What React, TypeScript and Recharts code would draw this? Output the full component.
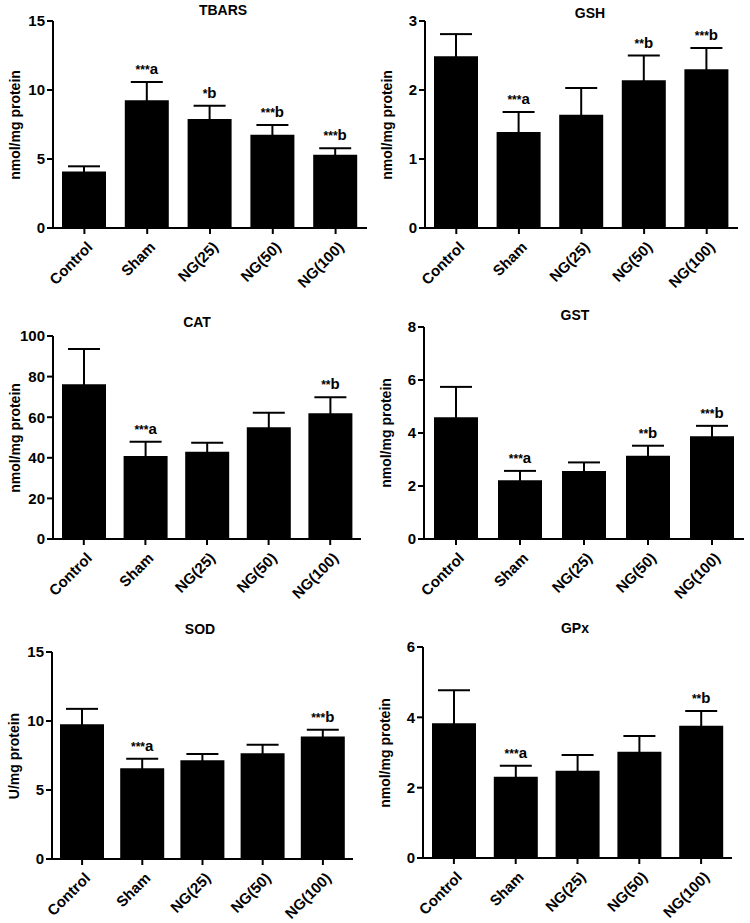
import { BarChart, Bar, XAxis, YAxis, ErrorBar } from 'recharts';

const categories = ['Control', 'Sham', 'NG(25)', 'NG(50)', 'NG(100)'];

const tbarsMean = [4.1, 9.25, 7.9, 6.75, 5.3];
const tbarsSem = [0.37, 1.33, 0.95, 0.72, 0.48];
const tbarsMarks = ['', '***a', '*b', '***b', '***b'];

const gshMean = [2.49, 1.39, 1.64, 2.14, 2.3];
const gshSem = [0.32, 0.29, 0.39, 0.36, 0.31];
const gshMarks = ['', '***a', '', '**b', '***b'];

const catMean = [76.2, 40.9, 43.0, 55.0, 61.9];
const catSem = [17.4, 7.0, 4.4, 7.2, 7.9];
const catMarks = ['', '***a', '', '', '**b'];

const gstMean = [4.59, 2.22, 2.57, 3.14, 3.88];
const gstSem = [1.15, 0.35, 0.32, 0.38, 0.39];
const gstMarks = ['', '***a', '', '**b', '***b'];

const sodMean = [9.77, 6.58, 7.16, 7.67, 8.88];
const sodSem = [1.11, 0.68, 0.44, 0.6, 0.48];
const sodMarks = ['', '***a', '', '', '***b'];

const gpxMean = [3.83, 2.31, 2.48, 3.02, 3.76];
const gpxSem = [0.94, 0.31, 0.45, 0.45, 0.42];
const gpxMarks = ['', '***a', '', '', '**b'];

const FONT = '"Liberation Sans", Arial, sans-serif';

type PanelProps = {
  title: string;
  yLabel: string;
  mean: number[];
  sem: number[];
  marks: string[];
  ticks: number[];
  ox: number;
  oy: number;
  left: number;
  right: number;
  top: number;
  bottom: number;
  titleX: number;
  titleY: number;
};

const XTick = (props: any) => {
  const { x, y, payload } = props;
  return (
    <g transform={`translate(${x + 2},${y + 5})`}>
      <text
        x={0}
        y={0}
        dy={10}
        textAnchor="end"
        transform="rotate(-45)"
        fontSize={15}
        fontWeight="bold"
        fontFamily={FONT}
        fill="#000"
      >
        {payload.value}
      </text>
    </g>
  );
};

function Panel(p: PanelProps) {
  const data = categories.map((c, i) => ({ name: c, v: p.mean[i], e: p.sem[i], mark: p.marks[i] }));
  const width = p.right - p.ox + 8;
  const height = Math.min(p.bottom - p.oy + 75, 923 - p.oy);

  const renderMark = (props: any) => {
    const { x, y, width: w, height: h, index } = props;
    const d = data[index];
    if (!d || !d.mark) return null;
    const perUnit = h / d.v;
    const errTop = y - d.e * perUnit;
    const stars = d.mark.replace(/[ab]/g, '');
    const letter = d.mark.replace(/\*/g, '');
    return (
      <text x={x + w / 2} y={errTop - 8} textAnchor="middle" fontFamily={FONT} fontWeight="bold" fill="#000">
        <tspan fontSize={12}>{stars}</tspan>
        <tspan fontSize={15}>{letter}</tspan>
      </text>
    );
  };

  return (
    <>
      <div
        style={{
          position: 'absolute',
          left: p.titleX - 60,
          top: p.titleY - 9,
          width: 120,
          textAlign: 'center',
          fontFamily: FONT,
          fontWeight: 'bold',
          fontSize: 14,
          lineHeight: '18px',
        }}
      >
        {p.title}
      </div>
      <div
        style={{
          position: 'absolute',
          left: p.left - 38 - 80,
          top: (p.top + p.bottom) / 2 - 9,
          width: 160,
          textAlign: 'center',
          fontFamily: FONT,
          fontWeight: 'bold',
          fontSize: 14,
          lineHeight: '18px',
          transform: 'rotate(-90deg)',
        }}
      >
        {p.yLabel}
      </div>
      <div style={{ position: 'absolute', left: p.ox, top: p.oy }}>
        <BarChart
          width={width}
          height={height}
          data={data}
          margin={{ top: p.top - p.oy, right: 8, bottom: 0, left: 0 }}
        >
          <XAxis
            dataKey="name"
            height={height - (p.bottom - p.oy)}
            axisLine={{ stroke: '#000', strokeWidth: 2 }}
            tickLine={{ stroke: '#000', strokeWidth: 2 }}
            tickSize={6}
            tick={<XTick />}
            interval={0}
          />
          <YAxis
            width={p.left - p.ox}
            domain={[0, p.ticks[p.ticks.length - 1]]}
            ticks={p.ticks}
            axisLine={{ stroke: '#000', strokeWidth: 2 }}
            tickLine={{ stroke: '#000', strokeWidth: 2 }}
            tickSize={6}
            tickMargin={2}
            tick={{ fill: '#000', fontSize: 15, fontWeight: 'bold', fontFamily: FONT }}
            allowDataOverflow
          />
          <Bar dataKey="v" fill="#000" barSize={44} isAnimationActive={false} label={renderMark}>
            <ErrorBar dataKey="e" width={16} strokeWidth={2} stroke="#000" direction="y" />
          </Bar>
        </BarChart>
      </div>
    </>
  );
}

export default function App() {
  return (
    <div style={{ position: 'absolute', left: 0, top: 0, width: 750, height: 923, background: '#fff', overflow: 'hidden' }}>
      <Panel title="TBARS" yLabel="nmol/mg protein" mean={tbarsMean} sem={tbarsSem} marks={tbarsMarks}
        ticks={[0, 5, 10, 15]} ox={0} oy={0} left={53} right={367} top={21} bottom={228} titleX={223} titleY={10} />
      <Panel title="GSH" yLabel="nmol/mg protein" mean={gshMean} sem={gshSem} marks={gshMarks}
        ticks={[0, 1, 2, 3]} ox={375} oy={0} left={425} right={738} top={21} bottom={228} titleX={590} titleY={13} />
      <Panel title="CAT" yLabel="nmol/mg protein" mean={catMean} sem={catSem} marks={catMarks}
        ticks={[0, 20, 40, 60, 80, 100]} ox={0} oy={300} left={53} right={361} top={336} bottom={539} titleX={197} titleY={322} />
      <Panel title="GST" yLabel="nmol/mg protein" mean={gstMean} sem={gstSem} marks={gstMarks}
        ticks={[0, 2, 4, 6, 8]} ox={375} oy={300} left={424} right={744} top={327} bottom={539} titleX={575} titleY={315} />
      <Panel title="SOD" yLabel="U/mg protein" mean={sodMean} sem={sodSem} marks={sodMarks}
        ticks={[0, 5, 10, 15]} ox={0} oy={610} left={52} right={353} top={652} bottom={859} titleX={200} titleY={629} />
      <Panel title="GPx" yLabel="nmol/mg protein" mean={gpxMean} sem={gpxSem} marks={gpxMarks}
        ticks={[0, 2, 4, 6]} ox={375} oy={610} left={423} right={732} top={647} bottom={858} titleX={575} titleY={628} />
    </div>
  );
}
